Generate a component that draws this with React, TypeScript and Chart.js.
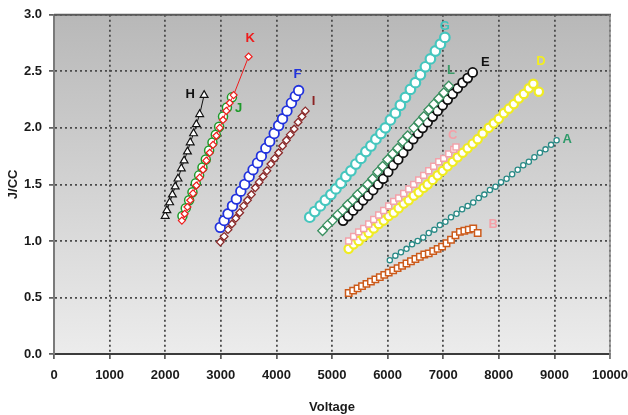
import React, { useEffect, useRef } from "react";
import { Chart, registerables } from "chart.js";
Chart.register(...registerables);

const FONT = "'Liberation Sans', Arial, sans-serif";

const xTicks = [0, 1000, 2000, 3000, 4000, 5000, 6000, 7000, 8000, 9000, 10000];
const yTicks = [0.0, 0.5, 1.0, 1.5, 2.0, 2.5, 3.0];

const hx = [2000, 2030, 2080, 2130, 2180, 2230, 2290, 2340, 2400, 2450, 2510, 2560, 2620, 2700];
const hy = [1.22, 1.27, 1.34, 1.41, 1.48, 1.55, 1.64, 1.71, 1.79, 1.87, 1.95, 2.03, 2.12, 2.29];

const jx = [2310, 2370, 2430, 2490, 2550, 2610, 2670, 2730, 2790, 2850, 2910, 2970, 3040, 3110, 3200];
const jy = [1.22, 1.29, 1.36, 1.43, 1.51, 1.58, 1.65, 1.72, 1.8, 1.87, 1.94, 2.01, 2.1, 2.18, 2.27];

const kx = [2300, 2350, 2400, 2450, 2500, 2560, 2620, 2680, 2740, 2800, 2860, 2920, 2980, 3040, 3100, 3160, 3230, 3500];
const ky = [1.18, 1.24, 1.3, 1.36, 1.42, 1.49, 1.56, 1.63, 1.71, 1.78, 1.85, 1.93, 2.0, 2.07, 2.15, 2.22, 2.29, 2.63];

const fx = [2990, 3060, 3130, 3210, 3280, 3360, 3430, 3510, 3580, 3660, 3730, 3810, 3880, 3960, 4040, 4110, 4190, 4270, 4340, 4400];
const fy = [1.12, 1.18, 1.24, 1.31, 1.37, 1.44, 1.5, 1.57, 1.63, 1.69, 1.75, 1.82, 1.88, 1.95, 2.02, 2.08, 2.15, 2.22, 2.28, 2.33];

const ix = [2990, 3060, 3130, 3200, 3270, 3340, 3410, 3480, 3550, 3620, 3690, 3760, 3830, 3900, 3970, 4040, 4110, 4180, 4250, 4320, 4390, 4460, 4520];
const iy = [0.99, 1.04, 1.1, 1.15, 1.2, 1.25, 1.31, 1.36, 1.41, 1.47, 1.52, 1.57, 1.62, 1.68, 1.73, 1.78, 1.84, 1.89, 1.94, 1.99, 2.05, 2.1, 2.15];

const gx = [4600, 4690, 4790, 4880, 4980, 5070, 5160, 5250, 5340, 5430, 5520, 5610, 5700, 5790, 5880, 5960, 6050, 6140, 6230, 6320, 6410, 6500, 6590, 6680, 6770, 6860, 6950, 7030];
const gy = [1.21, 1.26, 1.31, 1.36, 1.41, 1.46, 1.51, 1.57, 1.62, 1.68, 1.73, 1.79, 1.84, 1.9, 1.95, 2.0, 2.07, 2.13, 2.2, 2.27, 2.34, 2.4, 2.47, 2.54, 2.61, 2.68, 2.74, 2.8];

const lx = [4830, 4920, 5010, 5100, 5190, 5280, 5370, 5460, 5550, 5640, 5730, 5820, 5910, 6000, 6090, 6180, 6270, 6360, 6470, 6560, 6650, 6740, 6830, 6920, 7010, 7100];
const ly = [1.09, 1.14, 1.18, 1.23, 1.27, 1.32, 1.36, 1.41, 1.45, 1.5, 1.55, 1.61, 1.66, 1.72, 1.77, 1.82, 1.88, 1.93, 2.0, 2.05, 2.1, 2.16, 2.21, 2.26, 2.31, 2.37];

const ex = [5200, 5290, 5380, 5470, 5560, 5650, 5740, 5830, 5920, 6010, 6100, 6190, 6280, 6370, 6460, 6550, 6630, 6720, 6810, 6900, 6990, 7080, 7170, 7260, 7350, 7440, 7530];
const ey = [1.18, 1.22, 1.27, 1.31, 1.36, 1.4, 1.45, 1.5, 1.55, 1.61, 1.67, 1.72, 1.78, 1.84, 1.9, 1.95, 2.0, 2.05, 2.1, 2.15, 2.2, 2.25, 2.3, 2.35, 2.4, 2.44, 2.49];

const cx = [5300, 5390, 5480, 5570, 5660, 5750, 5840, 5930, 6020, 6110, 6200, 6290, 6380, 6470, 6560, 6650, 6740, 6830, 6920, 7010, 7100, 7190, 7230];
const cy = [1.0, 1.04, 1.08, 1.11, 1.15, 1.19, 1.23, 1.27, 1.31, 1.35, 1.38, 1.42, 1.46, 1.5, 1.54, 1.58, 1.62, 1.66, 1.7, 1.73, 1.77, 1.81, 1.83];

const dx = [5300, 5390, 5480, 5570, 5660, 5750, 5840, 5930, 6020, 6110, 6200, 6290, 6380, 6470, 6560, 6650, 6720, 6810, 6900, 6990, 7080, 7170, 7260, 7350, 7440, 7530, 7620, 7710, 7820, 7910, 8000, 8090, 8180, 8270, 8360, 8450, 8540, 8620, 8720];
const dy = [0.93, 0.97, 1.0, 1.04, 1.07, 1.11, 1.15, 1.18, 1.22, 1.25, 1.29, 1.33, 1.36, 1.4, 1.43, 1.47, 1.5, 1.54, 1.58, 1.62, 1.66, 1.7, 1.74, 1.78, 1.82, 1.86, 1.9, 1.95, 2.0, 2.04, 2.08, 2.13, 2.17, 2.21, 2.26, 2.3, 2.35, 2.39, 2.32];

const ax = [6040, 6140, 6240, 6340, 6440, 6540, 6640, 6740, 6840, 6940, 7040, 7140, 7240, 7340, 7440, 7540, 7640, 7740, 7840, 7940, 8040, 8140, 8240, 8340, 8440, 8540, 8640, 8740, 8840, 8940, 9040];
const ay = [0.83, 0.87, 0.9, 0.93, 0.97, 1.0, 1.03, 1.07, 1.1, 1.14, 1.17, 1.21, 1.24, 1.28, 1.31, 1.34, 1.38, 1.41, 1.45, 1.48, 1.52, 1.55, 1.59, 1.63, 1.67, 1.7, 1.74, 1.78, 1.81, 1.85, 1.89];

const bx = [5300, 5380, 5460, 5540, 5620, 5700, 5780, 5860, 5940, 6020, 6100, 6180, 6260, 6340, 6420, 6500, 6580, 6660, 6740, 6820, 6900, 6980, 7060, 7140, 7220, 7300, 7380, 7460, 7540, 7620];
const by = [0.54, 0.56, 0.58, 0.6, 0.62, 0.64, 0.66, 0.68, 0.7, 0.72, 0.74, 0.76, 0.78, 0.8, 0.82, 0.84, 0.86, 0.88, 0.89, 0.91, 0.93, 0.95, 0.98, 1.01, 1.05, 1.08, 1.09, 1.1, 1.11, 1.07];

const labelNames = ["H", "K", "J", "F", "I", "G", "L", "E", "C", "D", "A", "B"];
const labelX = [2450, 3530, 3320, 4380, 4670, 7030, 7140, 7760, 7170, 8760, 9230, 7900];
const labelY = [2.3, 2.79, 2.17, 2.47, 2.23, 2.9, 2.51, 2.58, 1.93, 2.59, 1.9, 1.15];
const labelColors = ["#111111", "#ee1c1c", "#1e9a2a", "#2233dd", "#8b2323", "#3cc4bc", "#3a9a68", "#111111", "#f4a0a8", "#f2ee20", "#2f9a6a", "#f4a0a8"];

function pts(xs: number[], ys: number[]) {
  return xs.map((x, i) => ({ x, y: ys[i] }));
}

function ds(xs: number[], ys: number[], color: string, style: string, radius: number, bw: number, fill = "#ffffff") {
  return {
    data: pts(xs, ys),
    showLine: true,
    borderColor: color,
    borderWidth: 1,
    backgroundColor: fill,
    pointBackgroundColor: fill,
    pointBorderColor: color,
    pointBorderWidth: bw,
    pointStyle: style,
    pointRadius: radius,
  };
}

const bgPlugin = {
  id: "bgPlugin",
  beforeDraw(chart: any) {
    const { ctx, chartArea } = chart;
    const { left, top, right, bottom } = chartArea;
    const g = ctx.createLinearGradient(0, top, 0, bottom);
    g.addColorStop(0, "#b8b8b8");
    g.addColorStop(1, "#ececec");
    ctx.save();
    ctx.fillStyle = g;
    ctx.fillRect(left, top, right - left, bottom - top);
    ctx.restore();
  },
  beforeDatasetsDraw(chart: any) {
    const { ctx, chartArea } = chart;
    const { left, top, right, bottom } = chartArea;
    ctx.save();
    ctx.strokeStyle = "#5a5a5a";
    ctx.lineWidth = 2;
    ctx.beginPath();
    ctx.moveTo(left, top);
    ctx.lineTo(right + 1, top);
    ctx.stroke();
    ctx.strokeStyle = "#8a8a8a";
    ctx.lineWidth = 1.5;
    ctx.beginPath();
    ctx.moveTo(right, top);
    ctx.lineTo(right, bottom + 5);
    ctx.stroke();
    ctx.restore();
  },
  afterDatasetsDraw(chart: any) {
    const { ctx, scales } = chart;
    ctx.save();
    ctx.font = "bold 13px " + FONT;
    ctx.textAlign = "center";
    ctx.textBaseline = "middle";
    labelNames.forEach((n, i) => {
      ctx.fillStyle = labelColors[i];
      ctx.fillText(n, scales.x.getPixelForValue(labelX[i]), scales.y.getPixelForValue(labelY[i]));
    });
    ctx.restore();
  },
};

export default function App() {
  const ref = useRef<HTMLCanvasElement | null>(null);
  useEffect(() => {
    if (!ref.current) return;
    const gridOpts: any = {
      color: "#4a4a4a",
      lineWidth: 1.8,
      tickLength: 5,
      tickColor: "#444",
      tickWidth: 1.5,
      tickBorderDash: [],
    };
    const chart = new Chart(ref.current, {
      type: "scatter",
      data: {
        datasets: [
          ds(hx, hy, "#111111", "triangle", 4.5, 1.2),
          ds(kx, ky, "#ee1c1c", "rectRot", 3.5, 1.2),
          ds(jx, jy, "#1e9a2a", "circle", 4.5, 1.5),
          ds(fx, fy, "#2233dd", "circle", 4.8, 1.8),
          ds(ix, iy, "#8b2a2a", "rectRot", 3.8, 1.3),
          ds(gx, gy, "#46c6be", "circle", 4.8, 2.2),
          ds(lx, ly, "#3a9060", "rectRot", 4.8, 1.3),
          ds(ex, ey, "#111111", "circle", 4.5, 1.8),
          ds(cx, cy, "#f2a2aa", "rect", 4.2, 1.5),
          ds(dx, dy, "#f0ec22", "circle", 4.2, 2.2),
          ds(ax, ay, "#2a8a86", "circle", 2.6, 1.3),
          ds(bx, by, "#cc5a1a", "rect", 4.5, 1.5),
        ] as any,
      },
      options: {
        animation: false,
        responsive: true,
        maintainAspectRatio: false,
        layout: { padding: { top: 14, right: 0, left: 0, bottom: 0 } },
        plugins: { legend: { display: false }, tooltip: { enabled: false } },
        scales: {
          x: {
            type: "linear",
            min: 0,
            max: 10000,
            afterBuildTicks: (s: any) => {
              s.ticks = xTicks.map((v) => ({ value: v }));
            },
            afterFit: (s: any) => {
              s.height = 61;
              s.paddingRight = 18;
              s.paddingLeft = 0;
            },
            ticks: {
              color: "#1a1a1a",
              font: { family: FONT, size: 13, weight: "bold" },
              padding: 9,
              maxRotation: 0,
              autoSkip: false,
              callback: (v: any) => String(v),
            },
            grid: gridOpts,
            border: { display: true, color: "#3c3c3c", width: 2, dash: [2, 3] } as any,
            title: {
              display: true,
              text: "Voltage",
              color: "#1a1a1a",
              font: { family: FONT, size: 13, weight: "bold" },
              padding: { top: 9, bottom: 0 },
            },
          },
          y: {
            type: "linear",
            min: 0,
            max: 3,
            afterBuildTicks: (s: any) => {
              s.ticks = yTicks.map((v) => ({ value: v }));
            },
            afterFit: (s: any) => {
              s.width = 54;
            },
            ticks: {
              color: "#1a1a1a",
              font: { family: FONT, size: 13, weight: "bold" },
              padding: 7,
              autoSkip: false,
              callback: (v: any) => Number(v).toFixed(1),
            },
            grid: gridOpts,
            border: { display: true, color: "#7a7a7a", width: 2, dash: [2, 3] } as any,
            title: {
              display: true,
              text: "J/CC",
              color: "#1a1a1a",
              font: { family: FONT, size: 13, weight: "bold" },
              padding: { top: 6, bottom: 0 },
            },
          },
        },
      } as any,
      plugins: [bgPlugin],
    });
    return () => chart.destroy();
  }, []);
  return (
    <div style={{ position: "fixed", left: 0, top: 0, width: 628, height: 415, background: "#fff" }}>
      <canvas ref={ref} />
    </div>
  );
}
